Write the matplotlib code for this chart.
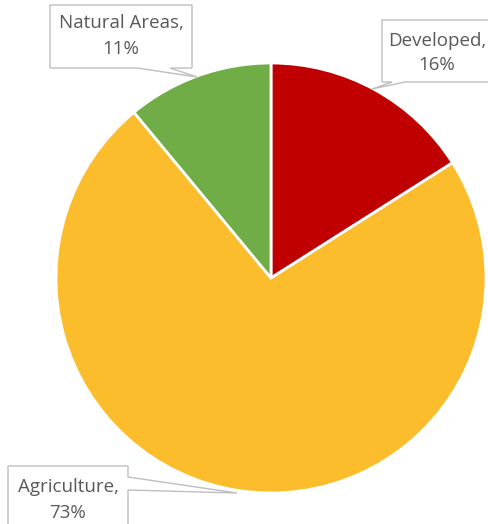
import matplotlib
matplotlib.use("Agg")
import matplotlib.pyplot as plt
from matplotlib.patches import Polygon

categories = ["Developed", "Agriculture", "Natural Areas"]
values = [16, 73, 11]
colors = ["#C00000", "#FBBD2C", "#70AD47"]

W, H = 488, 524
fig = plt.figure(figsize=(W / 100, H / 100), dpi=100)
ax = fig.add_axes([0, 0, 1, 1])

cx, cy, r = 271, 278, 215
ax.pie(values, colors=colors, startangle=-90, counterclock=True,
       center=(cx, cy), radius=r, frame=True,
       wedgeprops=dict(edgecolor="white", linewidth=2))
ax.set_xlim(0, W)
ax.set_ylim(H, 0)
ax.set_aspect("equal")
ax.axis("off")

labels = [f"{c},\n{v}%" for c, v in zip(categories, values)]

callouts = {
    "Developed": dict(poly=[(382, 20), (492, 20), (492, 82), (405, 82), (372, 89), (392, 82), (382, 82)],
                      text=(437, 53)),
    "Agriculture": dict(poly=[(8, 466), (128, 466), (128, 477), (237, 493), (128, 490), (128, 530), (8, 530)],
                        text=(68, 500)),
    "Natural Areas": dict(poly=[(50, 5), (192, 5), (192, 68), (170, 68), (197, 77), (137, 68), (50, 68)],
                          text=(121, 36)),
}

for cat, lab in zip(categories, labels):
    c = callouts[cat]
    ax.add_patch(Polygon(c["poly"], closed=True, facecolor="white",
                         edgecolor="#BFBFBF", linewidth=1, zorder=5, clip_on=False))
    ax.text(c["text"][0], c["text"][1], lab, ha="center", va="center",
            fontsize=13.5, color="#595959", family="Open Sans",
            linespacing=1.5, zorder=6)

fig.savefig("out.png", dpi=100)
